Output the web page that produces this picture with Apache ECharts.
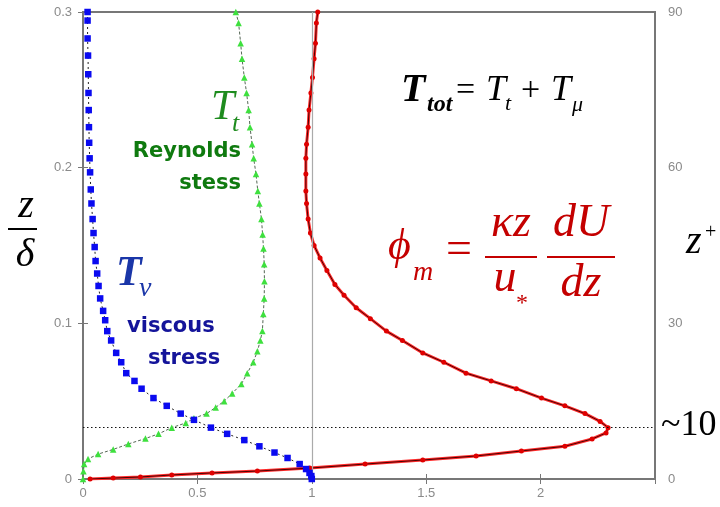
<!DOCTYPE html>
<html>
<head>
<meta charset="utf-8">
<script src="https://cdn.jsdelivr.net/npm/echarts@6/dist/echarts.min.js"></script>
<style>html,body{margin:0;padding:0;background:#fff}#c{width:720px;height:507px}</style>
</head>
<body>
<div id="c"></div>
<script>
// ---- data: [value, z/delta] ----
const viscousStress = [
  [0.020,0.300],[0.020,0.2945],[0.020,0.283],[0.022,0.272],[0.023,0.260],[0.024,0.248],[0.025,0.237],
  [0.026,0.226],[0.027,0.216],[0.029,0.206],[0.031,0.197],[0.034,0.186],[0.037,0.177],[0.042,0.167],
  [0.046,0.158],[0.051,0.149],[0.055,0.140],[0.062,0.132],[0.068,0.124],[0.075,0.116],[0.088,0.108],
  [0.097,0.102],[0.106,0.095],[0.123,0.089],[0.145,0.081],[0.167,0.075],[0.189,0.068],[0.225,0.063],
  [0.256,0.058],[0.308,0.052],[0.366,0.047],[0.427,0.042],[0.485,0.038],[0.559,0.033],[0.630,0.029],
  [0.705,0.025],[0.771,0.021],[0.837,0.017],[0.894,0.0135],[0.947,0.0096],[0.975,0.0064],[0.990,0.0039],
  [0.998,0.0019],[1.000,0.0]
];
const reynoldsStress = [
  [0.668,0.300],[0.680,0.293],[0.689,0.280],[0.695,0.270],[0.705,0.258],[0.715,0.248],[0.724,0.237],
  [0.730,0.226],[0.739,0.215],[0.746,0.206],[0.756,0.196],[0.764,0.185],[0.771,0.177],[0.780,0.167],
  [0.785,0.157],[0.789,0.148],[0.792,0.138],[0.793,0.127],[0.792,0.116],[0.788,0.106],[0.784,0.095],
  [0.775,0.089],[0.762,0.082],[0.744,0.075],[0.718,0.068],[0.692,0.061],[0.652,0.055],[0.617,0.050],
  [0.580,0.046],[0.540,0.042],[0.485,0.039],[0.449,0.036],[0.388,0.033],[0.330,0.029],[0.273,0.026],
  [0.198,0.0225],[0.132,0.019],[0.066,0.016],[0.022,0.0129],[0.005,0.0096],[0.002,0.005],[0.0,0.0]
];
const phiM = [
  [1.026,0.300],[1.020,0.293],[1.016,0.280],[1.010,0.270],[1.003,0.258],[0.996,0.248],[0.988,0.237],
  [0.984,0.226],[0.977,0.215],[0.974,0.206],[0.974,0.196],[0.974,0.185],[0.977,0.177],[0.984,0.167],
  [0.994,0.158],[1.010,0.150],[1.036,0.142],[1.066,0.134],[1.101,0.125],[1.141,0.118],[1.194,0.110],
  [1.256,0.103],[1.326,0.095],[1.396,0.089],[1.485,0.081],[1.577,0.075],[1.674,0.068],[1.784,0.063],
  [1.894,0.058],[2.004,0.052],[2.106,0.047],[2.194,0.042],[2.260,0.037],[2.295,0.033],[2.286,0.0296],
  [2.225,0.0257],[2.106,0.021],[1.916,0.018],[1.718,0.0148],[1.485,0.0122],[1.233,0.0096],[0.991,0.007],
  [0.762,0.0051],[0.564,0.0039],[0.388,0.0026],[0.251,0.0013],[0.132,0.0006],[0.031,0.0]
];
const xTicks = [0, 0.5, 1, 1.5, 2];
const xMax = 2.5;
const zTicks = [0, 0.1, 0.2, 0.3];
const zPlusTicks = [0, 30, 60, 90];
const zPlusMark = 10;
const unitLine = 1;

const zMax = zTicks[zTicks.length-1];
const zPlusMax = zPlusTicks[zPlusTicks.length-1];

const SERIF = '"Liberation Serif","Times New Roman",serif';
const SANS = '"DejaVu Sans",sans-serif';

function txt(x, baseline, text, size, o) {
  o = o || {};
  return {
    type: 'text', x: x, y: baseline - 0.34 * size, z: 50,
    style: {
      text: text, fill: o.fill || '#000',
      fontSize: size, fontFamily: o.family || SERIF,
      fontStyle: o.italic === false ? 'normal' : 'italic',
      fontWeight: o.bold ? 'bold' : 'normal',
      align: o.align || 'left', verticalAlign: 'middle'
    }
  };
}
function bar(x1, x2, y, color, w) {
  return { type: 'line', z: 50, shape: {x1: x1, y1: y, x2: x2, y2: y}, style: {stroke: color, lineWidth: w} };
}

const RED = '#c40000', GREEN = '#1e8c1e', DGREEN = '#0f7a0f', BLUE = '#1a36a8', DBLUE = '#14149a';

const graphics = [
  // T_tot = T_t + T_mu
  txt(401, 104, 'T', 40, {bold: true}),
  txt(427, 113, 'tot', 24, {bold: true}),
  txt(456, 103, '=', 34, {italic: false}),
  txt(486, 103, 'T', 36),
  txt(505, 112, 't', 22),
  txt(521, 103, '+', 34, {italic: false}),
  txt(551, 103, 'T', 36),
  txt(572, 113, 'μ', 22),
  // phi_m formula
  txt(388, 262, 'ϕ', 44, {fill: RED}),
  txt(413, 282, 'm', 28, {fill: RED}),
  txt(446, 267, '=', 46, {italic: false, fill: RED}),
  txt(511, 240, 'κz', 46, {fill: RED, align: 'center'}),
  bar(485, 537, 257, RED, 2),
  txt(505, 295, 'u', 46, {fill: RED, align: 'center'}),
  txt(516, 312, '*', 24, {fill: RED, italic: false}),
  txt(581, 240, 'dU', 46, {fill: RED, align: 'center'}),
  bar(547, 615, 257, RED, 2),
  txt(581, 300, 'dz', 46, {fill: RED, align: 'center'}),
  // T_t / Reynolds stess
  txt(211, 122, 'T', 42, {fill: GREEN}),
  txt(232, 133, 't', 26, {fill: GREEN}),
  txt(241, 159, 'Reynolds', 21, {fill: DGREEN, bold: true, italic: false, family: SANS, align: 'right'}),
  txt(241, 191, 'stess', 21, {fill: DGREEN, bold: true, italic: false, family: SANS, align: 'right'}),
  // T_nu / viscous stress
  txt(116, 288, 'T', 42, {fill: BLUE, bold: true}),
  txt(139, 298, 'ν', 28, {fill: BLUE}),
  txt(127, 334, 'viscous', 21, {fill: DBLUE, bold: true, italic: false, family: SANS}),
  txt(148, 366, 'stress', 21, {fill: DBLUE, bold: true, italic: false, family: SANS}),
  // z / delta
  txt(26, 220, 'z', 40, {align: 'center'}),
  bar(8, 37, 229, '#000', 2),
  txt(25, 269, 'δ', 40, {align: 'center'}),
  // z+
  txt(686, 256, 'z', 40),
  txt(705, 240, '+', 20, {italic: false}),
  // ~10
  txt(661, 438, '~10', 36, {italic: false})
];

const chart = echarts.init(document.getElementById('c'), null, {renderer: 'canvas'});
const axisLabelStyle = {color: '#8a8a8a', fontSize: 13, fontFamily: '"Liberation Sans",sans-serif'};

chart.setOption({
  animation: false,
  backgroundColor: '#fff',
  grid: {left: 83, right: 65, top: 12, bottom: 28, show: true, borderColor: '#777', borderWidth: 2},
  xAxis: [{
    type: 'value', min: 0, max: xMax, interval: xTicks[1] - xTicks[0],
    axisLine: {show: true, lineStyle: {color: '#777', width: 2}},
    axisTick: {show: true, inside: true, length: 5, lineStyle: {color: '#777'}},
    axisLabel: Object.assign({margin: 8, showMaxLabel: false}, axisLabelStyle),
    splitLine: {show: false}
  }, {
    type: 'value', position: 'top', min: 0, max: xMax, interval: xTicks[1] - xTicks[0],
    axisLine: {show: true, lineStyle: {color: '#777', width: 2}},
    axisTick: {show: true, inside: true, length: 5, lineStyle: {color: '#777'}},
    axisLabel: {show: false}, splitLine: {show: false}
  }],
  yAxis: [{
    type: 'value', min: 0, max: zMax, interval: zTicks[1] - zTicks[0],
    axisLine: {show: true, lineStyle: {color: '#777', width: 2}},
    axisTick: {show: true, inside: true, length: 5, lineStyle: {color: '#777'}},
    axisLabel: Object.assign({margin: 11}, axisLabelStyle),
    splitLine: {show: false}
  }, {
    type: 'value', position: 'right', min: 0, max: zPlusMax, interval: zPlusTicks[1] - zPlusTicks[0],
    axisLine: {show: true, lineStyle: {color: '#777', width: 2}},
    axisTick: {show: true, inside: true, length: 5, lineStyle: {color: '#777'}},
    axisLabel: Object.assign({margin: 13}, axisLabelStyle),
    splitLine: {show: false}
  }],
  series: [
    {
      type: 'line', data: [], silent: true, z: 1,
      markLine: {
        silent: true, symbol: 'none', label: {show: false}, animation: false,
        data: [{xAxis: unitLine, lineStyle: {color: '#aaa', width: 1.2, type: 'solid'}}]
      }
    },
    {
      type: 'line', data: [], silent: true, z: 2, yAxisIndex: 1,
      markLine: {
        silent: true, symbol: 'none', label: {show: false}, animation: false,
        data: [{yAxis: zPlusMark, lineStyle: {color: '#111', width: 1.2, type: [1.5, 2.5]}}]
      }
    },
    {
      name: 'phi_m glow', type: 'line', data: phiM, z: 3, symbol: 'none',
      lineStyle: {color: '#ff2a2a', width: 3}
    },
    {
      name: 'phi_m', type: 'line', data: phiM, z: 4, symbol: 'circle', symbolSize: 5,
      itemStyle: {color: '#e00000'}, lineStyle: {color: '#4a0000', width: 1}
    },
    {
      name: 'Reynolds', type: 'line', data: reynoldsStress, z: 5, symbol: 'triangle', symbolSize: 6.5,
      itemStyle: {color: '#3ee03e'}, lineStyle: {color: '#556655', width: 1, type: [3, 2]}
    },
    {
      name: 'viscous', type: 'line', data: viscousStress, z: 6, symbol: 'rect', symbolSize: 6.5,
      itemStyle: {color: '#0a0af0'}, lineStyle: {color: '#222', width: 1, type: [2, 3]}
    }
  ],
  graphic: graphics
});
</script>
</body>
</html>
